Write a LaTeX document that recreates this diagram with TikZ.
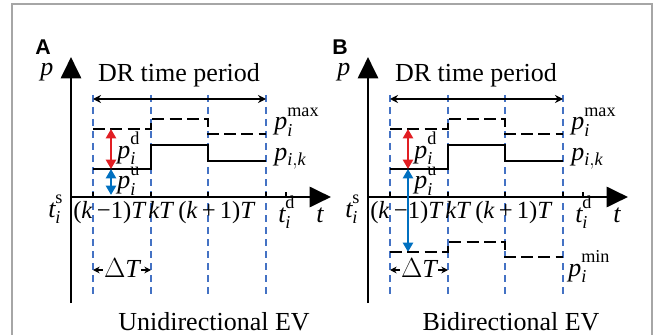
\documentclass[tikz,border=0pt]{standalone}
\usepackage{fontspec}
\setmainfont{Liberation Serif}
\newfontfamily\tagfont{Liberation Sans}
\usetikzlibrary{arrows.meta}
\definecolor{drred}{RGB}{225,30,35}
\definecolor{drblue}{RGB}{0,112,192}
\definecolor{gridblue}{RGB}{68,114,196}
\newcommand{\hisup}[1]{\raisebox{2.5pt}{$\scriptstyle\mathrm{#1}$}}

\begin{document}
\begin{tikzpicture}[x=0.75pt, y=-0.75pt,
  lab/.style={font=\fontsize{19.5}{23}\selectfont, inner sep=0pt},
  ticklab/.style={font=\fontsize{18.5}{22}\selectfont, inner sep=0pt},
  paneltag/.style={font=\tagfont\bfseries\fontsize{16}{19}\selectfont, inner sep=0pt},
  axisline/.style={line width=2.2pt, -{Triangle[length=16pt,width=15pt]}},
  gridline/.style={draw=gridblue, line width=0.9pt, dash pattern=on 5.5pt off 3.5pt},
  tickmark/.style={line width=1.5pt},
  limitline/.style={line width=2pt, dash pattern=on 9pt off 4pt},
  powerline/.style={line width=2pt},
  drspan/.style={{Stealth[length=6pt,width=6pt]}-{Stealth[length=6pt,width=6pt]}, line width=1.1pt},
  dtspan/.style={{Stealth[length=5pt,width=5pt]}-{Stealth[length=5pt,width=5pt]}, line width=1.1pt},
  gaparrow/.style={draw=#1, line width=2pt, {Triangle[length=7pt,width=7.5pt]}-{Triangle[length=7pt,width=7.5pt]}}]
  \useasboundingbox (0,0) rectangle (654,335);
  \draw[draw=black!35, line width=0.8pt] (12,335) -- (12,4) -- (652,4) -- (652,335);

  % both panels
  \foreach \pn/\dx/\lo/\ttl in {A/0/195/Unidirectional EV, B/297/252/Bidirectional EV}{
  \begin{scope}[xshift=\dx*0.75pt]
    \node[paneltag, anchor=base] (tag\pn) at (43,55) {\pn};
    \foreach \x in {93,151,208,266} \draw[gridline] (\x,95) -- (\x,297);
    \coordinate (o\pn) at (71,197);
    \coordinate (top\pn) at (71,57);
    \coordinate (bot\pn) at (71,303);
    \coordinate (end\pn) at (331,197);
    \draw[axisline] (bot\pn) -- (top\pn);
    \draw[axisline] (o\pn) -- (end\pn);
    \foreach \x in {93,151,208,266,286} \draw[tickmark] (\x,197) -- (\x,192);
    \node[lab, anchor=base west] (p\pn) at (40,76) {$\mathit{p}$};
    \node[lab, anchor=base west] (t\pn) at (316,222) {$\mathit{t}$};
    % DR period
    \coordinate (drl\pn) at (93,99);
    \coordinate (drr\pn) at (266,99);
    \draw[drspan] (drl\pn) -- (drr\pn);
    \node[lab, anchor=base] (dr\pn) at (179,82) {DR time period};
    % limits and power
    \draw[limitline] (93,129) -- (151,129) -- (151,119) -- (208,119) -- (208,134) -- (266,134);
    \draw[powerline] (93,169) -- (151,169) -- (151,145) -- (208,145) -- (208,161) -- (266,161);
    \coordinate (dtop\pn) at (111,129);
    \coordinate (dbot\pn) at (111,169);
    \coordinate (ubot\pn) at (111,\lo);
    \draw[gaparrow=drred] (dtop\pn) -- (dbot\pn);
    \draw[gaparrow=drblue] (dbot\pn) -- (ubot\pn);
    \node[lab, anchor=base west] (pd\pn) at (117,158) {$\mathit{p}_{\mathit{i}}^{\hisup{d}}$};
    \node[lab, anchor=base west] (pu\pn) at (117,189) {$\mathit{p}_{\mathit{i}}^{\hisup{u}}$};
    \node[lab, anchor=base west] (pmax\pn) at (274,130) {$\mathit{p}_{\mathit{i}}^{\hisup{max}}$};
    \node[lab, anchor=base west] (pk\pn) at (274,161) {$\mathit{p}_{\mathit{i},\mathit{k}}$};
    % time axis labels
    \node[lab, anchor=base west] (ts\pn) at (48,217) {$\mathit{t}_{\mathit{i}}^{\hisup{s}}$};
    \node[ticklab, anchor=base west] (km\pn) at (73,219) {(\textit{k}\,−1)\textit{T}};
    \node[ticklab, anchor=base west] (kk\pn) at (148,219) {\textit{kT}};
    \node[ticklab, anchor=base west] (kp\pn) at (178,219) {(\textit{k}\,+\,1)\textit{T}};
    \node[lab, anchor=base west] (td\pn) at (278,222) {$\mathit{t}_{\mathit{i}}^{\hisup{d}}$};
    \coordinate (dtl\pn) at (93,270);
    \coordinate (dtr\pn) at (151,270);
    \draw[dtspan] (dtl\pn) -- (dtr\pn);
    \node[lab, anchor=base, fill=white, inner xsep=1pt] (dt\pn) at (122,277) {$\Delta\mathit{T}$};
    \node[lab, anchor=base] (ttl\pn) at (214,330) {\ttl};
  \end{scope}}

  % lower limit, bidirectional only
  \begin{scope}[xshift=297*0.75pt]
    \draw[limitline] (93,252) -- (151,252) -- (151,242) -- (208,242) -- (208,257) -- (266,257);
    \node[lab, anchor=base west] (pminB) at (271,276) {$\mathit{p}_{\mathit{i}}^{\hisup{min}}$};
  \end{scope}
\end{tikzpicture}
\end{document}
